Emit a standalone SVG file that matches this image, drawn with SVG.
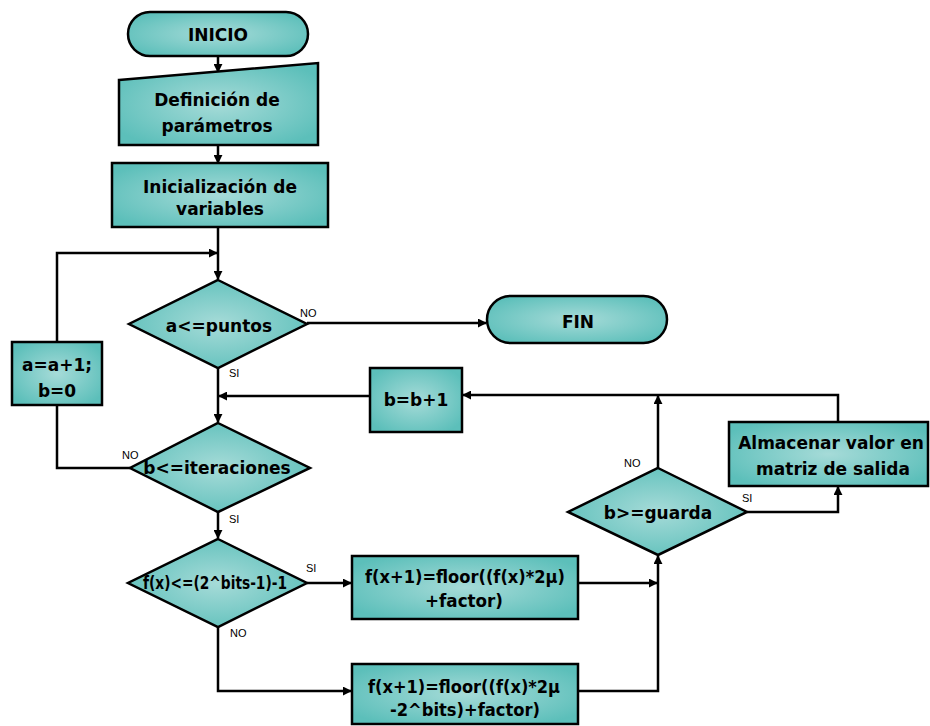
<svg xmlns="http://www.w3.org/2000/svg" width="930" height="726" viewBox="0 0 930 726">
  <defs>
    <radialGradient id="teal" cx="50%" cy="50%" r="60%">
      <stop offset="0" stop-color="#a6dbd8"/>
      <stop offset="1" stop-color="#5cbfba"/>
    </radialGradient>
    <marker id="arr" viewBox="0 0 10 10" refX="9" refY="5" markerWidth="9" markerHeight="9" markerUnits="userSpaceOnUse" orient="auto">
      <path d="M0,0 L10,5 L0,10 z" fill="#000"/>
    </marker>
  </defs>
  <style>
    .shape { fill: url(#teal); stroke: #000; stroke-width: 2.5; }
    .lbl { font-family: "DejaVu Sans", Verdana, sans-serif; font-weight: bold; font-size: 17px; text-anchor: middle; fill: #000; }
    .tag { font-family: "Liberation Sans", Arial, sans-serif; font-size: 11px; fill: #000; }
    .edge { fill: none; stroke: #000; stroke-width: 2.5; }
  </style>
  <rect width="930" height="726" fill="#fff"/>

  <!-- connectors -->
  <g id="connectors">
    <path class="edge" d="M218,56 V72" marker-end="url(#arr)"/>
    <path class="edge" d="M218,145 V163" marker-end="url(#arr)"/>
    <path class="edge" d="M218,227 V279" marker-end="url(#arr)"/>
    <path class="edge" d="M57,342 V253 H217" marker-end="url(#arr)"/>
    <path class="edge" d="M307,323 H486" marker-end="url(#arr)"/>
    <path class="edge" d="M218,368 V422" marker-end="url(#arr)"/>
    <path class="edge" d="M370,396 H219" marker-end="url(#arr)"/>
    <path class="edge" d="M130,468 H57 V405"/>
    <path class="edge" d="M218,512 V538" marker-end="url(#arr)"/>
    <path class="edge" d="M307,583 H351" marker-end="url(#arr)"/>
    <path class="edge" d="M218,627 V691 H351" marker-end="url(#arr)"/>
    <path class="edge" d="M578,583 H657" marker-end="url(#arr)"/>
    <path class="edge" d="M578,691 H658 V556" marker-end="url(#arr)"/>
    <path class="edge" d="M658,468 V396" marker-end="url(#arr)"/>
    <path class="edge" d="M838,422 V395 H463" marker-end="url(#arr)"/>
    <path class="edge" d="M747,512 H838 V487" marker-end="url(#arr)"/>
    <text class="tag" x="300" y="317">NO</text>
    <text class="tag" x="229" y="377">SI</text>
    <text class="tag" x="122" y="459">NO</text>
    <text class="tag" x="229" y="523">SI</text>
    <text class="tag" x="306" y="572">SI</text>
    <text class="tag" x="230" y="637">NO</text>
    <text class="tag" x="624" y="467">NO</text>
    <text class="tag" x="742" y="502">SI</text>
  </g>

  <g id="inicio">
    <rect class="shape" x="128" y="12" width="180" height="44" rx="22" ry="22"/>
    <text class="lbl" x="218" y="41">INICIO</text>
  </g>

  <g id="definicion">
    <path class="shape" d="M119,80 L318,63 V145 H119 Z"/>
    <text class="lbl" x="217" y="106">Definición de</text>
    <text class="lbl" x="217" y="132">parámetros</text>
  </g>

  <g id="inicializacion">
    <rect class="shape" x="112" y="163" width="216" height="64"/>
    <text class="lbl" x="220" y="193">Inicialización de</text>
    <text class="lbl" x="220" y="215">variables</text>
  </g>

  <g id="cond-puntos">
    <path class="shape" d="M218,280 L307,324 L218,368 L129,324 Z"/>
    <text class="lbl" x="219" y="332">a&lt;=puntos</text>
  </g>

  <g id="fin">
    <rect class="shape" x="487" y="296" width="180" height="47" rx="23.5" ry="23.5"/>
    <text class="lbl" x="578" y="328">FIN</text>
  </g>

  <g id="incremento-a">
    <rect class="shape" x="12" y="342" width="90" height="63"/>
    <text class="lbl" x="57" y="371">a=a+1;</text>
    <text class="lbl" x="57" y="397">b=0</text>
  </g>

  <g id="incremento-b">
    <rect class="shape" x="370" y="368" width="92" height="64"/>
    <text class="lbl" x="416" y="406">b=b+1</text>
  </g>

  <g id="cond-iteraciones">
    <path class="shape" d="M218,423 L310,468 L218,512 L130,468 Z"/>
    <text class="lbl" x="217" y="474">b&lt;=iteraciones</text>
  </g>

  <g id="almacenar">
    <rect class="shape" x="729" y="422" width="199" height="64"/>
    <text class="lbl" x="831" y="449">Almacenar valor en</text>
    <text class="lbl" x="833" y="475">matriz de salida</text>
  </g>

  <g id="cond-guarda">
    <path class="shape" d="M658,468 L747,512 L658,555 L568,512 Z"/>
    <text class="lbl" x="658" y="519">b&gt;=guarda</text>
  </g>

  <g id="cond-bits">
    <path class="shape" d="M218,539 L307,583 L218,627 L128,583 Z"/>
    <text class="lbl" x="215" y="589" textLength="144" lengthAdjust="spacingAndGlyphs">f(x)&lt;=(2^bits-1)-1</text>
  </g>

  <g id="calculo-si">
    <rect class="shape" x="352" y="556" width="226" height="63"/>
    <text class="lbl" x="465" y="583" textLength="200" lengthAdjust="spacingAndGlyphs">f(x+1)=floor((f(x)*2μ)</text>
    <text class="lbl" x="464" y="607" textLength="78" lengthAdjust="spacingAndGlyphs">+factor)</text>
  </g>

  <g id="calculo-no">
    <rect class="shape" x="352" y="664" width="226" height="60"/>
    <text class="lbl" x="464" y="693" textLength="192" lengthAdjust="spacingAndGlyphs">f(x+1)=floor((f(x)*2μ</text>
    <text class="lbl" x="465" y="716" textLength="150" lengthAdjust="spacingAndGlyphs">-2^bits)+factor)</text>
  </g>
</svg>
